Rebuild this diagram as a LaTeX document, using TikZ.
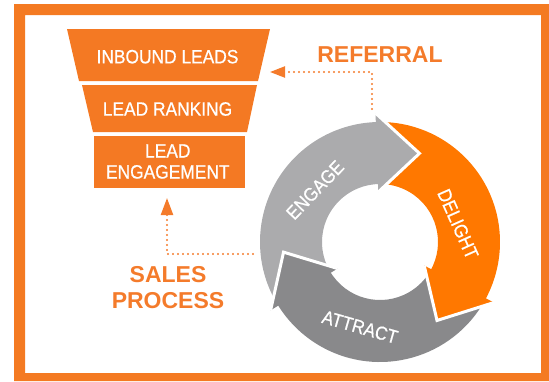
\documentclass[tikz,border=0pt]{standalone}
\usepackage{fontspec}
\setmainfont{Liberation Sans}
\newfontfamily\regf{Liberation Sans}[FakeStretch=0.9, FakeBold=0.6]
\newfontfamily\boldf{Liberation Sans}
\usetikzlibrary{arrows.meta}
\definecolor{frameor}{HTML}{F47A22}
\definecolor{funnelor}{HTML}{F47923}
\definecolor{lblor}{HTML}{F47B2B}
\definecolor{delightor}{HTML}{FF7800}
\definecolor{lightgr}{HTML}{ABABAD}
\definecolor{darkgr}{HTML}{89898B}
\newcommand\ringbody[3]{%
  \fill[#1] (#2:120) arc[start angle=#2, end angle=#3, radius=120]
    -- (#3:58) arc[start angle=#3, end angle=#2, radius=58] -- cycle;}
\newcommand\ringhead[2]{%
  \fill[#1] (#2:129) -- ({#2-26}:97) -- (#2:50) -- cycle;
  \draw[white, line width=3pt] (#2:129) -- ({#2-26}:97) -- (#2:50);}
\begin{document}
\begin{tikzpicture}[x=1pt,y=-1pt,
  tier/.style={text=white, font=\regf\fontsize{19.3}{21}\selectfont, align=center, inner sep=0pt},
  biglbl/.style={text=lblor, font=\boldf\bfseries\fontsize{23}{26}\selectfont, align=center, inner sep=0pt},
  cyclbl/.style={text=white, font=\regf\fontsize{19}{21}\selectfont, inner sep=0pt},
  dotline/.style={draw=lblor, line width=2.2pt, line cap=round, dash pattern=on 0pt off 5pt},
  reftip/.style={-{Triangle[length=15pt,width=11pt,fill=lblor]}},
  salestip/.style={-{Triangle[length=17pt,width=12pt,fill=lblor]}}
]
\useasboundingbox (0,0) rectangle (549,381);
% frame
\fill[frameor, even odd rule] (14,4) rectangle (549,381) (25,15) rectangle (541,373);
% funnel
\fill[funnelor] (67,29) -- (270,29) -- (258,81) -- (79,81) -- cycle;
\fill[funnelor] (82,85) -- (257,85) -- (247,132) -- (93,132) -- cycle;
\fill[funnelor] (94,136) rectangle (245,188);
\node[tier] (inbound) at (167.5,56.7) {INBOUND LEADS};
\node[tier] (ranking) at (167.5,109) {LEAD RANKING};
\node[tier] (engagement) at (167.8,161.5) {LEAD\\ENGAGEMENT};
% cycle
\begin{scope}[shift={(380,242)}, y=1pt]
  \ringbody{lightgr}{210.5}{90}
  \ringbody{delightor}{90.5}{-30}
  \ringbody{darkgr}{-29.5}{-150}
  \ringhead{lightgr}{92}
  \ringhead{delightor}{-28}
  \ringhead{darkgr}{212}
\end{scope}
\node[cyclbl, rotate=46] (engage) at (315,190) {ENGAGE};
\node[cyclbl, rotate=-66] (delight) at (458,224) {DELIGHT};
\node[cyclbl, rotate=-16] (attract) at (360,327) {ATTRACT};
% labels
\node[biglbl] (referral) at (380,55) {REFERRAL};
\node[biglbl] (sales) at (168,288) {SALES\\PROCESS};
% dotted connectors
\coordinate (cyctop) at (372,109);
\coordinate (refend) at (270,72);
\coordinate (cycleft) at (253,254);
\coordinate (salesend) at (167,198);
\draw[dotline, reftip] (cyctop) |- (refend);
\draw[dotline, salestip] (cycleft) -| (salesend);
\end{tikzpicture}
\end{document}
